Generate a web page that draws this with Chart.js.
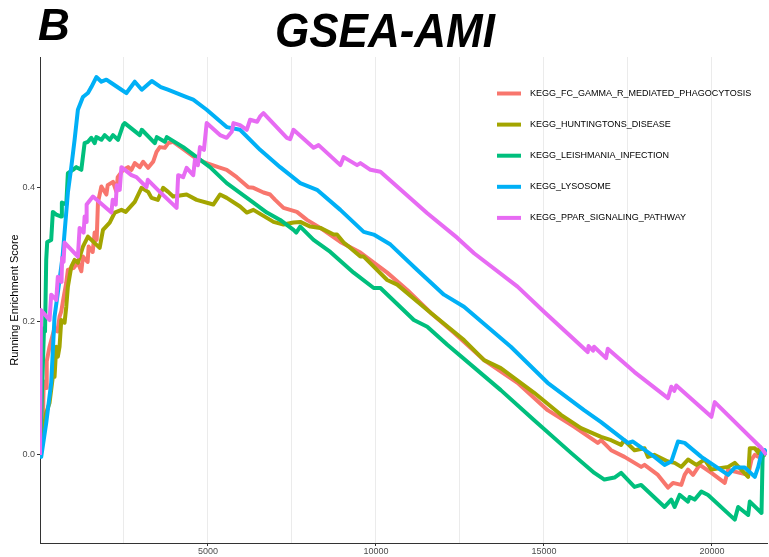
<!DOCTYPE html>
<html>
<head>
<meta charset="utf-8">
<title>GSEA-AMI</title>
<script src="https://cdn.jsdelivr.net/npm/chart.js@4.4.1/dist/chart.umd.min.js"></script>
<style>
  html, body { margin: 0; padding: 0; background: #ffffff; }
  #wrap { width: 769px; height: 557px; position: relative; }
</style>
</head>
<body>
<div id="wrap"><canvas id="gsea"></canvas></div>
<script>
// Gene sets, in legend order
const pathwayNames = [
  'KEGG_FC_GAMMA_R_MEDIATED_PHAGOCYTOSIS',
  'KEGG_HUNTINGTONS_DISEASE',
  'KEGG_LEISHMANIA_INFECTION',
  'KEGG_LYSOSOME',
  'KEGG_PPAR_SIGNALING_PATHWAY'
];
const pathwayColors = ['#F8766D', '#A3A500', '#00BF7D', '#00B0F6', '#E76BF3'];

// Axis ticks
const xTicks = [2500, 5000, 7500, 10000, 12500, 15000, 17500, 20000];
const xLabeledTicks = [5000, 10000, 15000, 20000];
const yTicks = [0, 0.2, 0.4];

// Running enrichment score: [gene rank, score]
const fcGamma = [[0,0],[84,0.042],[110,0.110],[180,0.100],[200,0.140],[284,0.162],[433,0.190],[520,0.185],[582,0.207],[633,0.215],[700,0.235],[782,0.258],[830,0.277],[1000,0.280],[1128,0.288],[1230,0.275],[1278,0.297],[1418,0.289],[1448,0.312],[1568,0.304],[1627,0.333],[1687,0.322],[1725,0.378],[1827,0.402],[1976,0.390],[2015,0.404],[2173,0.409],[2275,0.394],[2313,0.416],[2472,0.427],[2621,0.431],[2722,0.427],[2821,0.437],[2970,0.431],[3069,0.439],[3218,0.430],[3367,0.439],[3469,0.454],[3567,0.461],[3716,0.460],[3815,0.467],[3964,0.469],[4215,0.460],[4561,0.447],[4860,0.439],[4961,0.437],[5307,0.431],[5558,0.427],[5857,0.416],[6203,0.401],[6352,0.400],[6651,0.393],[6851,0.390],[7000,0.382],[7248,0.370],[7647,0.364],[7946,0.352],[8343,0.340],[8940,0.319],[9537,0.303],[10334,0.273],[10931,0.247],[11627,0.213],[12322,0.183],[13218,0.142],[14213,0.108],[15110,0.067],[15904,0.042],[16603,0.018],[16701,0.022],[17000,0.007],[17398,-0.003],[17895,-0.018],[17994,-0.015],[18393,-0.030],[18692,-0.049],[18841,-0.042],[19089,-0.045],[19188,-0.030],[19289,-0.022],[19438,-0.030],[19636,-0.015],[19985,-0.027],[20382,-0.042],[20483,-0.022],[20680,-0.025],[21079,-0.030],[21179,-0.007],[21277,0.000],[21379,-0.003],[21477,0.004],[21620,0]];

const huntingtons = [[0,0],[84,0.033],[185,0.063],[284,0.078],[382,0.117],[433,0.117],[484,0.162],[531,0.147],[582,0.162],[633,0.202],[731,0.198],[782,0.222],[830,0.252],[931,0.282],[1030,0.292],[1128,0.288],[1278,0.312],[1427,0.327],[1776,0.310],[1875,0.337],[2075,0.348],[2224,0.363],[2424,0.367],[2552,0.364],[2821,0.379],[3021,0.400],[3218,0.394],[3319,0.385],[3507,0.382],[3666,0.400],[3815,0.394],[3964,0.387],[4364,0.390],[4663,0.382],[5158,0.375],[5358,0.390],[5558,0.385],[5955,0.372],[6154,0.363],[6352,0.367],[6752,0.355],[6950,0.349],[7248,0.345],[7546,0.348],[7746,0.349],[8045,0.342],[8343,0.340],[8741,0.330],[8841,0.330],[9039,0.318],[9239,0.310],[9537,0.297],[9637,0.297],[10334,0.262],[10633,0.255],[11627,0.213],[12621,0.172],[13218,0.142],[13716,0.130],[14710,0.093],[15507,0.060],[16104,0.040],[16701,0.027],[17000,0.022],[17298,0.015],[17388,0.022],[17696,0.007],[17994,0.010],[18094,-0.003],[18283,0.000],[18692,-0.010],[18890,-0.012],[19089,-0.018],[19289,-0.007],[19537,-0.015],[19785,-0.007],[19985,-0.022],[20483,-0.018],[20680,-0.012],[21079,-0.033],[21128,0.010],[21277,0.010],[21379,0.003],[21428,0.012],[21477,0.003],[21620,0]];

const leishmania = [[0,0],[120,0.190],[150,0.185],[185,0.292],[215,0.319],[334,0.322],[382,0.364],[484,0.360],[633,0.357],[651,0.378],[782,0.375],[830,0.422],[979,0.427],[1081,0.431],[1230,0.427],[1328,0.467],[1427,0.469],[1528,0.475],[1627,0.467],[1678,0.476],[1827,0.472],[1925,0.479],[2075,0.472],[2173,0.479],[2322,0.472],[2472,0.494],[2522,0.497],[2970,0.479],[3030,0.487],[3418,0.467],[3478,0.476],[3716,0.469],[3776,0.476],[4263,0.461],[5060,0.431],[5558,0.407],[6352,0.378],[6752,0.363],[7149,0.352],[7546,0.337],[7627,0.333],[7746,0.342],[8143,0.322],[8642,0.304],[9337,0.273],[9934,0.250],[10134,0.250],[11128,0.202],[11528,0.192],[12125,0.165],[13716,0.097],[14710,0.052],[15806,0.003],[16501,-0.027],[16800,-0.037],[17099,-0.034],[17298,-0.027],[17696,-0.048],[17895,-0.045],[18591,-0.078],[18791,-0.067],[18890,-0.078],[19039,-0.060],[19289,-0.070],[19337,-0.063],[19486,-0.067],[19686,-0.055],[19886,-0.060],[20680,-0.097],[20781,-0.078],[21079,-0.090],[21128,-0.070],[21477,-0.087],[21507,-0.007],[21537,0.007],[21620,0]];

const lysosome = [[0,0],[36,-0.003],[185,0.048],[334,0.108],[433,0.207],[531,0.243],[672,0.297],[830,0.393],[931,0.431],[1030,0.472],[1128,0.517],[1278,0.536],[1427,0.542],[1528,0.551],[1678,0.566],[1827,0.559],[1976,0.562],[2125,0.557],[2424,0.547],[2573,0.542],[2821,0.559],[3030,0.547],[3328,0.560],[3597,0.551],[3806,0.547],[4066,0.542],[4364,0.536],[4561,0.532],[4961,0.517],[5558,0.491],[5955,0.487],[6552,0.457],[7149,0.431],[7746,0.407],[8245,0.397],[8940,0.367],[9636,0.334],[9934,0.330],[10433,0.315],[11230,0.277],[12024,0.240],[12621,0.222],[14015,0.162],[15110,0.108],[16194,0.067],[16701,0.049],[17498,0.018],[17647,0.020],[18292,-0.003],[18591,-0.015],[18791,-0.010],[18990,0.020],[19188,0.018],[19686,-0.003],[20483,-0.030],[20680,-0.019],[20979,-0.019],[21277,-0.033],[21379,-0.018],[21477,0.003],[21576,0.007],[21620,0]];

const pparSignaling = [[0,0],[30,0.217],[284,0.202],[334,0.240],[484,0.232],[531,0.267],[642,0.259],[657,0.295],[702,0.289],[731,0.318],[1128,0.297],[1179,0.340],[1299,0.333],[1328,0.357],[1373,0.349],[1388,0.375],[1576,0.387],[2125,0.363],[2164,0.382],[2254,0.375],[2284,0.404],[2373,0.397],[2424,0.431],[2722,0.419],[2871,0.416],[3170,0.401],[3209,0.412],[3567,0.394],[4066,0.370],[4113,0.419],[4263,0.416],[4364,0.430],[4561,0.419],[4612,0.442],[4701,0.434],[4761,0.461],[4880,0.457],[4961,0.497],[5358,0.479],[5558,0.475],[5707,0.484],[5757,0.497],[5955,0.494],[6154,0.487],[6254,0.502],[6463,0.499],[6552,0.507],[6651,0.512],[7349,0.475],[7448,0.473],[7546,0.487],[8143,0.460],[8293,0.464],[8940,0.434],[9039,0.446],[9438,0.434],[9537,0.437],[9836,0.427],[10134,0.424],[11528,0.362],[12423,0.325],[12920,0.302],[14214,0.252],[15010,0.214],[16304,0.154],[16328,0.163],[16462,0.156],[16492,0.162],[16850,0.145],[16900,0.159],[17696,0.124],[18692,0.085],[18791,0.102],[18880,0.096],[18940,0.104],[19985,0.057],[20084,0.079],[21477,0.010],[21620,0]];

const seriesData = [fcGamma, huntingtons, leishmania, lysosome, pparSignaling];

const FONT = '"Liberation Sans", Arial, Helvetica, sans-serif';
Chart.defaults.font.family = FONT;

// Panel letter and title above the plotting area
const headerPlugin = {
  id: 'header',
  afterDraw(chart) {
    const ctx = chart.ctx;
    ctx.save();
    ctx.fillStyle = '#000';
    ctx.textBaseline = 'alphabetic';
    ctx.font = 'italic bold 44px ' + FONT;
    ctx.textAlign = 'left';
    ctx.fillText('B', 38, 40);
    // Title set slightly condensed
    ctx.font = 'italic bold 48px ' + FONT;
    ctx.textAlign = 'center';
    const w = ctx.measureText('GSEA-AMI').width;
    const sx = Math.min(1, 220 / w);
    ctx.translate(385, 47);
    ctx.scale(sx, 1);
    ctx.fillText('GSEA-AMI', 0, 0);
    ctx.restore();
  }
};

// Legend inside the upper-right part of the panel
const insideLegend = {
  id: 'insideLegend',
  afterDatasetsDraw(chart) {
    const ctx = chart.ctx;
    ctx.save();
    ctx.font = '9px ' + FONT;
    ctx.textBaseline = 'middle';
    ctx.textAlign = 'left';
    chart.data.datasets.forEach((ds, i) => {
      const y = 93.5 + i * 31.1;
      ctx.strokeStyle = ds.borderColor;
      ctx.lineWidth = 4;
      ctx.lineCap = 'butt';
      ctx.beginPath();
      ctx.moveTo(497, y);
      ctx.lineTo(521, y);
      ctx.stroke();
      ctx.fillStyle = '#000';
      ctx.fillText(ds.label, 530, y);
    });
    ctx.restore();
  }
};

const datasets = pathwayNames.map((name, i) => ({
  label: name,
  data: seriesData[i].map(([x, y]) => ({ x, y })),
  borderColor: pathwayColors[i],
  backgroundColor: pathwayColors[i],
  borderWidth: 4,
  pointRadius: 0,
  pointHoverRadius: 0,
  fill: false,
  tension: 0,
  borderJoinStyle: 'round',
  order: pathwayNames.length - i
}));

new Chart(document.getElementById('gsea'), {
  type: 'line',
  data: { datasets },
  options: {
    responsive: true,
    maintainAspectRatio: false,
    animation: false,
    devicePixelRatio: 1,
    layout: { padding: { top: 57, right: 2, bottom: 0, left: 0 } },
    plugins: {
      legend: { display: false },
      tooltip: { enabled: false },
      title: { display: false }
    },
    scales: {
      x: {
        type: 'linear',
        min: 0,
        max: 21640,
        afterBuildTicks: (scale) => { scale.ticks = xTicks.map(v => ({ value: v })); },
        afterFit: (scale) => { scale.height = 14; },
        ticks: {
          autoSkip: false,
          maxRotation: 0,
          color: '#4d4d4d',
          font: { size: 9 },
          padding: 0,
          callback: (v) => (xLabeledTicks.includes(v) ? String(v) : '')
        },
        grid: {
          color: '#ebebeb',
          lineWidth: 1,
          drawTicks: true,
          tickLength: 3,
          tickColor: (ctx) => (ctx.tick && xLabeledTicks.includes(ctx.tick.value) ? '#333333' : 'rgba(0,0,0,0)')
        },
        border: { display: true, color: '#333333', width: 1 }
      },
      y: {
        type: 'linear',
        min: -0.132,
        max: 0.596,
        afterBuildTicks: (scale) => { scale.ticks = yTicks.map(v => ({ value: v })); },
        afterFit: (scale) => { scale.width = 40; },
        ticks: {
          color: '#4d4d4d',
          font: { size: 9 },
          padding: 2,
          callback: (v) => Math.abs(v).toFixed(1) === '0.0' ? '0.0' : v.toFixed(1)
        },
        grid: {
          drawOnChartArea: false,
          drawTicks: true,
          tickLength: 3,
          tickColor: '#333333'
        },
        border: { display: true, color: '#333333', width: 1 },
        title: {
          display: true,
          text: 'Running Enrichment Score',
          color: '#000000',
          font: { size: 11 },
          padding: { top: 8, bottom: 0 }
        }
      }
    }
  },
  plugins: [headerPlugin, insideLegend]
});
</script>
</body>
</html>
